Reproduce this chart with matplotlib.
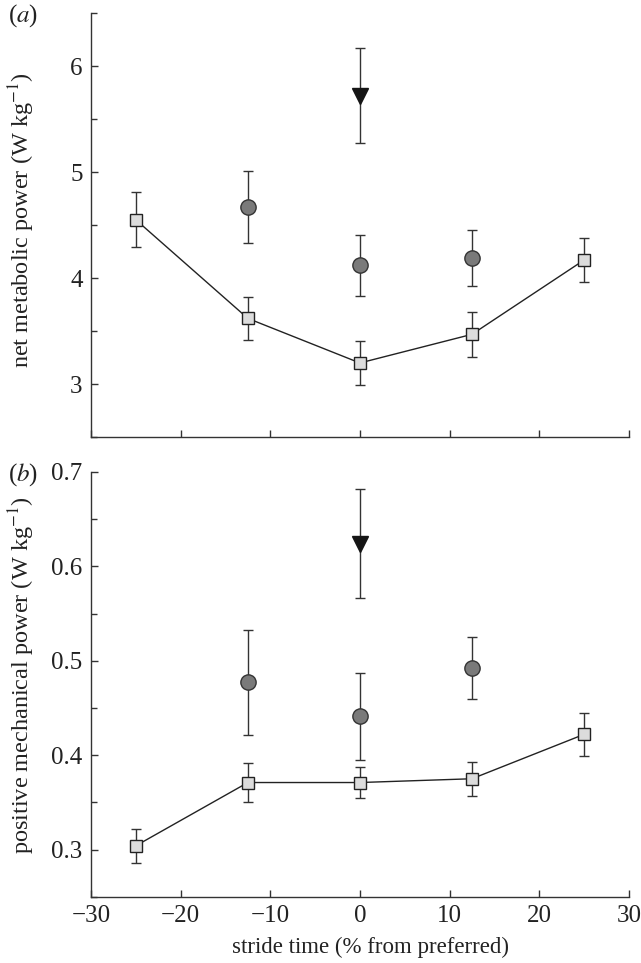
"""
Stride time vs. metabolic and mechanical power
"""

import matplotlib
matplotlib.use("Agg")
import matplotlib.pyplot as plt
from matplotlib.ticker import MultipleLocator

plt.rcParams['font.family'] = ['Liberation Serif', 'DejaVu Serif']
plt.rcParams['mathtext.fontset'] = 'stix'

stride = [-25, -12.5, 0, 12.5, 25]   # % from preferred
circ_x = [-12.5, 0, 12.5]
tri_x = [0]

# (a) net metabolic power (W/kg)
met_sq = [4.55, 3.62, 3.20, 3.47, 4.17]
met_sq_err = [0.26, 0.20, 0.21, 0.21, 0.21]
met_circ = [4.67, 4.12, 4.19]
met_circ_err = [0.34, 0.29, 0.26]
met_tri = [5.72]
met_tri_err = [0.45]

# (b) positive mechanical power (W/kg)
mech_sq = [0.304, 0.371, 0.371, 0.375, 0.422]
mech_sq_err = [0.018, 0.021, 0.016, 0.018, 0.023]
mech_circ = [0.477, 0.441, 0.492]
mech_circ_err = [0.056, 0.046, 0.033]
mech_tri = [0.624]
mech_tri_err = [0.058]

fig = plt.figure(figsize=(6.41, 9.63), dpi=100)
ax1 = fig.add_axes([0.142, 0.546, 0.839, 0.4405])
ax2 = fig.add_axes([0.142, 0.0688, 0.839, 0.4411])

ebkw = dict(ecolor='#333333', elinewidth=1.0, capsize=3.3, capthick=1.0)
txt = '#222222'


def panel(ax, sq, sq_err, circ, circ_err, tri, tri_err):
    ax.errorbar(stride, sq, yerr=sq_err, fmt='none', zorder=1, **ebkw)
    ax.errorbar(circ_x, circ, yerr=circ_err, fmt='none', zorder=1, **ebkw)
    ax.errorbar(tri_x, tri, yerr=tri_err, fmt='none', zorder=1, **ebkw)
    ax.plot(stride, sq, '-', color='#222222', lw=1.0, zorder=2)
    ax.plot(stride, sq, 's', ms=9, mfc='#dcdcdc', mec='#222222', mew=1.0, zorder=3)
    ax.plot(circ_x, circ, 'o', ms=11, mfc='#7a7a7a', mec='#333333', mew=1.0, zorder=3)
    ax.plot(tri_x, tri, 'v', ms=12, mfc='#151515', mec='#151515', zorder=3)
    for s in ['top', 'right']:
        ax.spines[s].set_visible(False)
    for s in ['left', 'bottom']:
        ax.spines[s].set_color('#333333')
        ax.spines[s].set_linewidth(1.0)
    ax.set_xlim(-30, 30)
    ax.xaxis.set_major_locator(MultipleLocator(10))
    ax.tick_params(direction='in', length=5, width=1.0, color='#333333',
                   labelsize=18, labelcolor=txt, pad=6)
    ax.tick_params(which='minor', direction='in', length=4, width=1.0, color='#333333')


panel(ax1, met_sq, met_sq_err, met_circ, met_circ_err, met_tri, met_tri_err)
ax1.set_ylim(2.5, 6.5)
ax1.yaxis.set_major_locator(MultipleLocator(1))
ax1.yaxis.set_minor_locator(MultipleLocator(0.5))
ax1.tick_params(axis='x', labelbottom=False)
ax1.set_ylabel(r'net metabolic power (W kg$^{-1}$)', fontsize=17.5, color=txt)
ax1.yaxis.set_label_coords(-0.10, 0.513)

panel(ax2, mech_sq, mech_sq_err, mech_circ, mech_circ_err, mech_tri, mech_tri_err)
ax2.set_ylim(0.25, 0.7)
ax2.yaxis.set_major_locator(MultipleLocator(0.1))
ax2.yaxis.set_minor_locator(MultipleLocator(0.05))
ax2.yaxis.set_major_formatter(plt.FormatStrFormatter('%.1f'))
ax2.set_ylabel(r'positive mechanical power (W kg$^{-1}$)', fontsize=17.5, color=txt)
ax2.yaxis.set_label_coords(-0.10, 0.521)
ax2.set_xlabel('stride time (% from preferred)', fontsize=16.5, color=txt)
ax2.xaxis.set_label_coords(0.519, -0.095)
ax2.xaxis.set_major_formatter(plt.FuncFormatter(lambda v, p: f'{v:.0f}'.replace('-', '\u2212')))

fig.text(0.012, 0.984, r'($a$)', fontsize=18, color=txt, va='center')
fig.text(0.012, 0.507, r'($b$)', fontsize=18, color=txt, va='center')

fig.savefig('out.png', dpi=100)
